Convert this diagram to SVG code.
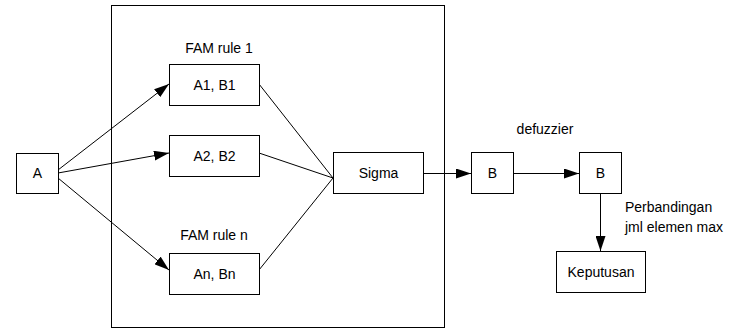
<svg xmlns="http://www.w3.org/2000/svg" width="731" height="329" viewBox="0 0 731 329">
<style>
rect{fill:#fff;stroke:#000;stroke-width:1}
.c line{stroke:#000;stroke-width:1}
text{font-family:"Liberation Sans",Arial,sans-serif;font-size:14px;fill:#000}
.m{text-anchor:middle}
</style>
<defs>
<marker id="ah" markerWidth="15" markerHeight="10" refX="15" refY="5" orient="auto" markerUnits="userSpaceOnUse">
<path d="M0,0 L15,5 L0,10 Z" fill="#000"/>
</marker>
</defs>
<g id="frame"><rect x="111.5" y="5.5" width="333" height="322"/></g>
<g class="c" id="connectors">
<line x1="58" y1="170" x2="169" y2="84" marker-end="url(#ah)"/>
<line x1="58" y1="173" x2="169" y2="153" marker-end="url(#ah)"/>
<line x1="58" y1="178" x2="169" y2="270" marker-end="url(#ah)"/>
<line x1="259" y1="84" x2="333" y2="178"/>
<line x1="259" y1="153" x2="333" y2="178"/>
<line x1="259" y1="270" x2="333" y2="178"/>
<line x1="423" y1="173.5" x2="471" y2="173.5" marker-end="url(#ah)"/>
<line x1="513" y1="173.5" x2="579" y2="173.5" marker-end="url(#ah)"/>
<line x1="600.5" y1="194" x2="600.5" y2="251" marker-end="url(#ah)"/>
</g>
<g id="nodeA"><rect x="16.5" y="153.5" width="42" height="40"/><text x="37.5" y="178" class="m">A</text></g>
<g id="fam1"><text x="219" y="53" class="m">FAM rule 1</text></g>
<g id="a1b1"><rect x="169.5" y="64.5" width="90" height="41"/><text x="214.5" y="90" class="m">A1, B1</text></g>
<g id="a2b2"><rect x="169.5" y="135.5" width="90" height="41"/><text x="214.5" y="161" class="m">A2, B2</text></g>
<g id="famn"><text x="214" y="240" class="m">FAM rule n</text></g>
<g id="anbn"><rect x="169.5" y="253.5" width="90" height="41"/><text x="214.5" y="279" class="m">An, Bn</text></g>
<g id="sigma"><rect x="333.5" y="152.5" width="90" height="41"/><text x="378.5" y="178" class="m">Sigma</text></g>
<g id="b1"><rect x="471.5" y="152.5" width="42" height="41"/><text x="492.5" y="178" class="m">B</text></g>
<g id="defuzzier"><text x="545" y="134" class="m">defuzzier</text></g>
<g id="b2"><rect x="579.5" y="152.5" width="42" height="41"/><text x="600.5" y="178" class="m">B</text></g>
<g id="perbandingan"><text x="625" y="212">Perbandingan</text><text x="625" y="232">jml elemen max</text></g>
<g id="keputusan"><rect x="556.5" y="251.5" width="89" height="41"/><text x="601" y="277" class="m">Keputusan</text></g>
</svg>
